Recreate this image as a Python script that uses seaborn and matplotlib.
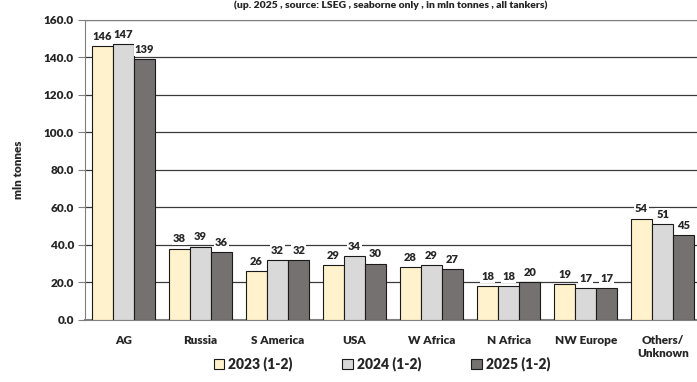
import pandas as pd
import numpy as np
import matplotlib
matplotlib.use("Agg")
import matplotlib.pyplot as plt
import seaborn as sns

# values (mln tonnes)
regions = ["AG", "Russia", "S America", "USA", "W Africa", "N Africa", "NW Europe", "Others/\nUnknown"]
years = ["2023 (1-2)", "2024 (1-2)", "2025 (1-2)"]
vals_2023 = [146, 38, 26, 29, 28, 18, 19, 54]
vals_2024 = [147, 39, 32, 34, 29, 18, 17, 51]
vals_2025 = [139, 36, 32, 30, 27, 20, 17, 45]
colors = ["#FFF2CC", "#D9D9D9", "#767171"]
y_ticks = [0, 20, 40, 60, 80, 100, 120, 140, 160]
title = "(up. 2025 , source: LSEG , seaborne only , in mln tonnes , all tankers)"

df = pd.DataFrame({
    "region": regions * 3,
    "year": [years[0]] * 8 + [years[1]] * 8 + [years[2]] * 8,
    "value": vals_2023 + vals_2024 + vals_2025,
})

W = "heavy"

sns.set_style("white")
plt.rcParams["font.family"] = ["Lato", "DejaVu Sans"]
plt.rcParams["font.weight"] = W

fig = plt.figure(figsize=(6.97, 3.82), dpi=100)
ax = fig.add_axes([0.122, 0.163, 0.884, 0.785])

sns.barplot(data=df, x="region", y="value", hue="year", palette=colors,
            width=0.82, edgecolor="#1a1a1a", linewidth=0.8, saturation=1,
            ax=ax, zorder=3)

ax.set_ylim(0, 160)
ax.set_xlim(-0.5, len(regions) - 0.5)
ax.set_yticks(y_ticks)
ax.set_yticklabels([f"{t:.1f}" for t in y_ticks], fontsize=8.5, fontweight=W)
ax.set_xticklabels(regions, fontsize=8.5, fontweight=W)
ax.tick_params(axis="y", direction="out", length=5, width=0.8, color="#808080", pad=3, left=True)
ax.tick_params(axis="x", length=0, pad=11)
ax.set_xlabel("")
ax.set_ylabel("mln tonnes", fontsize=8.5, fontweight=W, labelpad=14)

for t in y_ticks[1:]:
    ax.axhline(t, color="#3a3a3a", lw=0.9, zorder=1)

ax.spines["right"].set_visible(False)
ax.spines["top"].set_color("#808080")
ax.spines["left"].set_color("#808080")
ax.spines["bottom"].set_color("#808080")
ax.spines["bottom"].set_linewidth(1.5)

for cont in ax.containers:
    ax.bar_label(cont, fmt="%.0f", padding=3, fontsize=8, fontweight=W,
                 bbox=dict(facecolor="white", edgecolor="none", pad=0.6), zorder=4)

handles, labels = ax.get_legend_handles_labels()
ax.get_legend().remove()
fig.legend(handles, labels, loc="center", bbox_to_anchor=(0.548, 0.047), ncol=3,
           frameon=False, handlelength=0.75, handleheight=0.75, handletextpad=0.3,
           columnspacing=3.6, prop={"weight": W, "size": 10})

fig.text(391 / 697, 0.999, title, ha="center", va="top", fontsize=7.5, fontweight=W)

fig.savefig("out.png", dpi=100)
